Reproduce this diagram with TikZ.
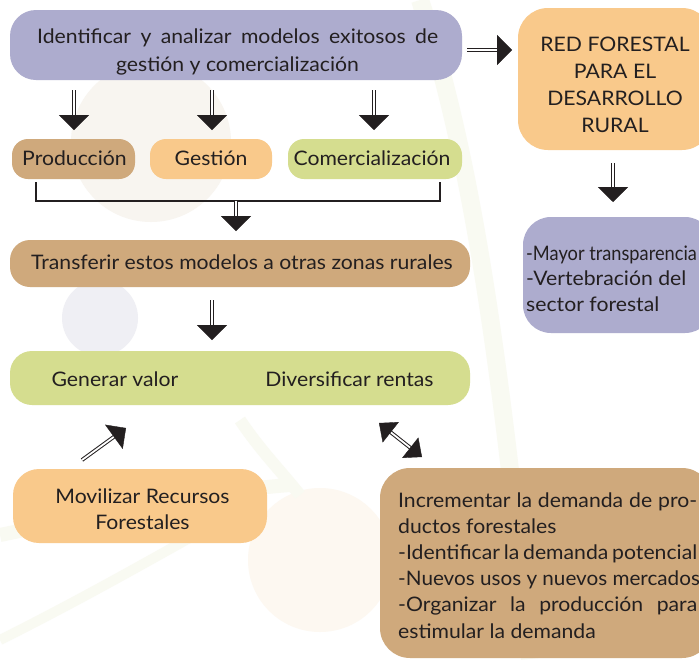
\documentclass[tikz,border=0pt]{standalone}
\usepackage{fontspec}
\setmainfont{Lato}[FakeStretch=1.06]
\usetikzlibrary{arrows.meta,calc}
\definecolor{lav}{HTML}{ADACCE}
\definecolor{peach}{HTML}{F9C98B}
\definecolor{tan}{HTML}{CFA97C}
\definecolor{lgreen}{HTML}{D5DD8F}
\definecolor{ink}{HTML}{231F20}
\definecolor{bgbeige}{HTML}{F8F5F0}
\definecolor{bglav}{HTML}{EFEFF4}
\definecolor{bgpeach}{HTML}{FDF8F1}
\definecolor{bggreen}{HTML}{F9FAF2}
\newcommand\dblarrow[3][30pt]{%
  \draw[shaft] (#2) -- ($(#3)!14pt!(#2)$);
  \draw[tipline,-{Triangle[length=15pt,width=#1]}] ($(#3)!15pt!(#2)$) -- (#3);}
\newcommand\dbldouble[3][26pt]{%
  \draw[shaft] ($(#2)!14pt!(#3)$) -- ($(#3)!14pt!(#2)$);
  \draw[tipline,-{Triangle[length=15pt,width=#1]}] ($(#3)!15pt!(#2)$) -- (#3);
  \draw[tipline,-{Triangle[length=15pt,width=#1]}] ($(#2)!15pt!(#3)$) -- (#2);}
\begin{document}
\begin{tikzpicture}[x=1pt,y=-1pt,
  box/.style={draw=none, inner sep=0pt},
  txt/.style={text=ink, inner sep=0pt, font=\fontsize{20}{26}\selectfont},
  shaft/.style={draw=ink, double=white, double distance=1.8pt, line width=1pt},
  tipline/.style={draw=ink, fill=ink, line width=0.4pt},
  bracket/.style={draw=ink, line width=1.5pt}]
\useasboundingbox (0,0) rectangle (699,659);
\clip (0,0) rectangle (699,659);
\fill[white] (0,0) rectangle (699,659);
% background decoration
\fill[bgbeige] (151,142) circle (80);
\fill[bglav] (100,318) circle (38);
\fill[bgpeach] (320,560) circle (72);
\draw[bggreen, line width=14pt] (0,535) .. controls (120,510) and (220,490) .. (290,485);
\draw[bggreen, line width=10pt] (0,640) .. controls (80,600) and (150,560) .. (195,535);
\draw[bggreen, line width=12pt] (240,420) .. controls (260,450) and (280,470) .. (300,495);
\draw[bggreen, line width=18pt] (420,0) .. controls (470,150) and (500,350) .. (530,659);

% boxes
\node[box, fill=lav, rounded corners=26pt, minimum width=452pt, minimum height=70pt] (top) at (236,45) {};
\node[box, fill=peach, rounded corners=30pt, minimum width=194pt, minimum height=142pt] (red) at (615,79) {};
\node[box, fill=lav, rounded corners=28pt, minimum width=190pt, minimum height=116pt] (mayor) at (618,275) {};
\node[box, fill=tan, rounded corners=16pt, minimum width=123pt, minimum height=40pt] (prod) at (73.5,159) {};
\node[box, fill=peach, rounded corners=16pt, minimum width=122pt, minimum height=40pt] (gest) at (211,159) {};
\node[box, fill=lgreen, rounded corners=16pt, minimum width=174pt, minimum height=40pt] (comer) at (375,159) {};
\node[box, fill=tan, rounded corners=20pt, minimum width=460pt, minimum height=47pt] (transf) at (240,263.5) {};
\node[box, fill=lgreen, rounded corners=22pt, minimum width=460pt, minimum height=54pt] (gener) at (240,378) {};
\node[box, fill=peach, rounded corners=26pt, minimum width=254pt, minimum height=74pt] (movil) at (140,506) {};
\node[box, fill=tan, rounded corners=30pt, minimum width=332pt, minimum height=190pt] (incr) at (546,563) {};

% texts (multi-line nodes: base = last line)
\node[txt, anchor=base west] (toptext) at (37,43) {\makebox[401pt][s]{Identificar y analizar modelos exitosos de}};
\node[txt, anchor=base] (toptext2) at (237.5,71) {gestión y comercialización};
\node[txt, anchor=base, align=center, font=\fontsize{20}{26.7}\selectfont] (redtext) at (615,132) {RED FORESTAL\\PARA EL\\DESARROLLO\\RURAL};
\node[txt, anchor=base west, align=left, font=\fontsize{20}{25.5}\selectfont] (mayortext) at (526,311) {\scalebox{0.86}[1]{-Mayor transparencia}\\-Vertebración del\\sector forestal};
\node[txt, anchor=base] (prodtext) at (74.5,165.5) {Producción};
\node[txt, anchor=base] (gesttext) at (211,165.5) {Gestión};
\node[txt, anchor=base] (comertext) at (372,165.5) {Comercialización};
\node[txt, anchor=base] (transftext) at (242,269) {Transferir estos modelos a otras zonas rurales};
\node[txt, anchor=base] (genertext1) at (115,386.5) {Generar valor};
\node[txt, anchor=base] (genertext2) at (349.5,386.5) {Diversificar rentas};
\node[txt, anchor=base, align=center, font=\fontsize{20}{26.5}\selectfont] (moviltext) at (142.5,529.5) {Movilizar Recursos\\Forestales};
\node[txt, anchor=base west, align=left, font=\fontsize{20}{26.2}\selectfont] (incrtext) at (398,638) {%
\makebox[299pt][s]{Incrementar la demanda de pro-}\\
ductos forestales\\
\makebox[299pt][s]{-Identificar la demanda potencial}\\
\scalebox{0.975}[1]{-Nuevos usos y nuevos mercados}\\
\makebox[299pt][s]{-Organizar la producción para}\\
estimular la demanda};

% arrow end points
\coordinate (a1s) at (74,90);  \coordinate (a1e) at (74,130);
\coordinate (a2s) at (212,90); \coordinate (a2e) at (212,130);
\coordinate (a3s) at (374,90); \coordinate (a3e) at (374,130);
\coordinate (ars) at (467,50); \coordinate (are) at (512,50);
\coordinate (ads) at (613,163); \coordinate (ade) at (613,202);
\coordinate (bl) at (36,182); \coordinate (br) at (440,182);
\coordinate (bm) at (236,201); \coordinate (bme) at (236,231);
\coordinate (tgs) at (212,300); \coordinate (tge) at (212,340);
\coordinate (mvs) at (82,460); \coordinate (mve) at (126,428);
\coordinate (dd1) at (379,423); \coordinate (dd2) at (422,457);

\dblarrow{a1s}{a1e}
\dblarrow{a2s}{a2e}
\dblarrow{a3s}{a3e}
\dblarrow{ars}{are}
\dblarrow{ads}{ade}
\draw[bracket] (bl) |- (bm) -| (br);
\dblarrow{bm}{bme}
\dblarrow{tgs}{tge}
\dblarrow{mvs}{mve}
\dbldouble{dd1}{dd2}
\end{tikzpicture}
\end{document}
